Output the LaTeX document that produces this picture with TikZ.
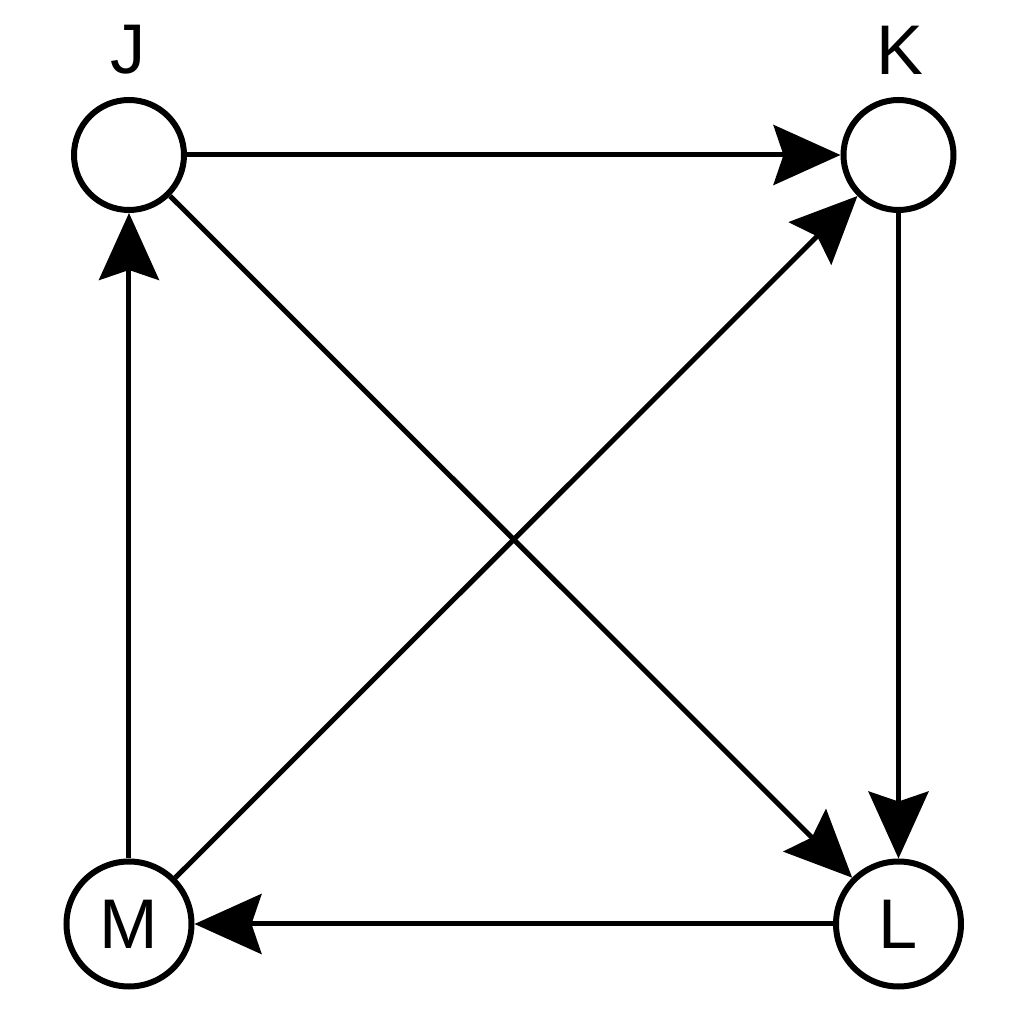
\documentclass[tikz,border=0pt]{standalone}
\usepackage{fontspec}
\setmainfont{Liberation Sans}
\usetikzlibrary{arrows.meta}
\begin{document}
\begin{tikzpicture}[
    vertex/.style={circle, draw, line width=0.06cm, inner sep=0pt, minimum size=1.10cm},
    lettered/.style={vertex, minimum size=1.25cm},
    every node/.style={font=\fontsize{20}{24}\selectfont}
  ]
      \useasboundingbox (0,0) rectangle (10.24,10.24);
      \draw
        (1.29,8.69) node[vertex] (J){}
        (8.985,8.69) node[vertex] (K){}
        (8.985,1.00) node[lettered] (L){L}
        (1.29,1.00) node[lettered] (M){M};
      \node (Jname) at (1.28,9.74) {J};
      \node (Kname) at (9.00,9.74) {K};
      \begin{scope}[line width=0.05cm, -{Stealth[length=0.67cm, width=0.6cm, inset=0.1cm]}]
        \draw (J) to (K);
        \draw (J) to (L);
        \draw (K) to (L);
        \draw (L) to (M);
        \draw (M) to (J);
        \draw (M) to (K);
      \end{scope}
    \end{tikzpicture}
\end{document}
